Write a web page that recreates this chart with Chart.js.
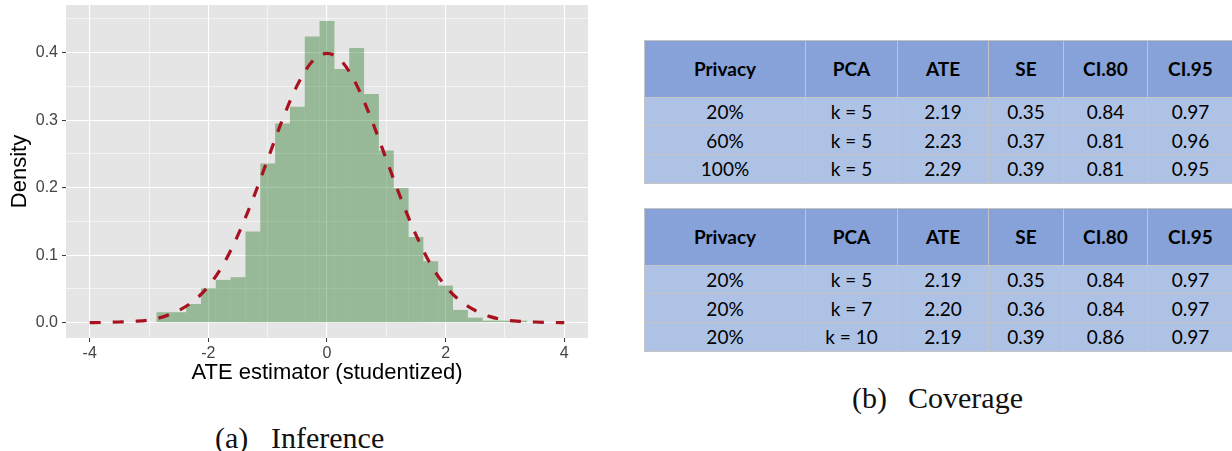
<!DOCTYPE html>
<html>
<head>
<meta charset="utf-8">
<script src="https://cdn.jsdelivr.net/npm/chart.js@4.4.1/dist/chart.umd.min.js"></script>
<style>
  body { margin: 0; width: 1232px; height: 451px; overflow: hidden; background: #fff; position: relative; }
  #hist { position: absolute; left: 0; top: 0; }
  .caption { position: absolute; font-family: "Liberation Serif", serif; font-size: 30px; line-height: 34px; color: #111; white-space: nowrap; }
  table.cov { position: absolute; left: 644px; border-collapse: collapse; table-layout: fixed; font-family: Lato, sans-serif; font-size: 19px; color: #000; }
  table.cov th, table.cov td { border: 1px solid #c4c4c4; text-align: center; padding: 0; }
  table.cov th { background: #86a2d8; font-weight: bold; height: 55.6px; }
  table.cov td { background: #aec2e6; height: 27.7px; }
</style>
</head>
<body>
<canvas id="hist" width="600" height="400"></canvas>

<table class="cov" id="tablePrivacy" style="top:40px"></table>
<table class="cov" id="tablePca" style="top:208px"></table>

<div class="caption" style="left:215px; top:421px">(a)</div>
<div class="caption" style="left:271px; top:421px">Inference</div>
<div class="caption" style="left:852px; top:381px">(b)</div>
<div class="caption" style="left:908px; top:381px">Coverage</div>

<script>
// histogram of the studentized ATE estimator (bins of width 0.25)
const binCenters = [-2.75, -2.5, -2.25, -2.0, -1.75, -1.5, -1.25, -1.0, -0.75, -0.5, -0.25, 0,
                    0.25, 0.5, 0.75, 1.0, 1.25, 1.5, 1.75, 2.0, 2.25, 2.5, 2.75, 3.0, 3.25];
const binDensity = [0.0155, 0.0155, 0.0277, 0.051, 0.0634, 0.0674, 0.135, 0.236, 0.295, 0.320, 0.424, 0.447,
                    0.376, 0.407, 0.339, 0.255, 0.1995, 0.127, 0.091, 0.055, 0.0189, 0.0074, 0.003, 0.003, 0.003];

// dashed reference density
const curveX = [-4, -3.75, -3.5, -3.25, -3, -2.75, -2.5, -2.25, -2, -1.75, -1.5, -1.25, -1, -0.75, -0.5, -0.25, 0,
                0.25, 0.5, 0.75, 1, 1.25, 1.5, 1.75, 2, 2.25, 2.5, 2.75, 3, 3.25, 3.5, 3.75, 4];
const curveY = [0.0001, 0.0004, 0.001, 0.002, 0.004, 0.009, 0.018, 0.032, 0.054, 0.086, 0.130, 0.183, 0.242, 0.301, 0.352, 0.387, 0.399,
                0.387, 0.352, 0.301, 0.242, 0.183, 0.130, 0.086, 0.054, 0.032, 0.018, 0.009, 0.004, 0.002, 0.001, 0.0004, 0.0001];

// coverage tables
const tableHeader = ['Privacy', 'PCA', 'ATE', 'SE', 'CI.80', 'CI.95'];
const privacyRows = [
  ['20%', 'k = 5', '2.19', '0.35', '0.84', '0.97'],
  ['60%', 'k = 5', '2.23', '0.37', '0.81', '0.96'],
  ['100%', 'k = 5', '2.29', '0.39', '0.81', '0.95']
];
const pcaRows = [
  ['20%', 'k = 5', '2.19', '0.35', '0.84', '0.97'],
  ['20%', 'k = 7', '2.20', '0.36', '0.84', '0.97'],
  ['20%', 'k = 10', '2.19', '0.39', '0.86', '0.97']
];
const colWidths = [161, 92, 91, 75, 84, 86];

function buildTable(id, rows) {
  const table = document.getElementById(id);
  let html = '<colgroup>' + colWidths.map(w => `<col style="width:${w}px">`).join('') + '</colgroup>';
  html += '<tr>' + tableHeader.map(h => `<th>${h}</th>`).join('') + '</tr>';
  rows.forEach(r => {
    html += '<tr>' + r.map(c => `<td>${c}</td>`).join('') + '</tr>';
  });
  table.innerHTML = html;
  table.style.width = colWidths.reduce((a, b) => a + b, 0) + 'px';
}
buildTable('tablePrivacy', privacyRows);
buildTable('tablePca', pcaRows);

Chart.defaults.font.family = '"Liberation Sans", Arial, sans-serif';

const isMajorY = v => Math.abs(v * 10 - Math.round(v * 10)) < 1e-6;
const isMajorX = v => Math.abs(v / 2 - Math.round(v / 2)) < 1e-6;

// grey ggplot-like panel
const panelBg = {
  id: 'panelBg',
  beforeDraw(chart) {
    const a = chart.chartArea;
    const c = chart.ctx;
    c.save();
    c.fillStyle = '#e5e5e5';
    c.fillRect(a.left, a.top, a.right - a.left, a.bottom - a.top);
    c.restore();
  }
};

const ctx = document.getElementById('hist').getContext('2d');
new Chart(ctx, {
  type: 'bar',
  data: {
    datasets: [
      {
        type: 'line',
        data: curveX.map((x, i) => ({ x: x, y: curveY[i] })),
        borderColor: '#a8121f',
        borderWidth: 3.2,
        borderDash: [11, 12],
        borderCapStyle: 'butt',
        pointRadius: 0,
        cubicInterpolationMode: 'monotone',
        fill: false,
        order: 0
      },
      {
        type: 'bar',
        data: binCenters.map((x, i) => ({ x: x, y: binDensity[i] })),
        backgroundColor: 'rgba(0, 100, 0, 0.34)',
        borderWidth: 0,
        barPercentage: 1,
        categoryPercentage: 1,
        inflateAmount: 0,
        order: 1
      }
    ]
  },
  options: {
    responsive: false,
    animation: false,
    layout: { padding: { top: 5, right: 12, left: 0, bottom: 0 } },
    plugins: { legend: { display: false }, tooltip: { enabled: false } },
    scales: {
      x: {
        type: 'linear',
        min: -4.4,
        max: 4.4,
        offset: false,
        grid: {
          offset: false,
          color: '#ffffff',
          lineWidth: c => isMajorX(c.tick.value) ? 1.1 : 0.55,
          tickColor: c => isMajorX(c.tick.value) ? '#333333' : 'rgba(0,0,0,0)',
          tickLength: 4,
          tickWidth: 1
        },
        border: { display: false },
        ticks: {
          stepSize: 1,
          includeBounds: false,
          autoSkip: false,
          maxRotation: 0,
          padding: 2,
          color: '#444444',
          font: { size: 16 },
          callback: v => isMajorX(v) ? String(v) : ''
        },
        title: {
          display: true,
          text: 'ATE estimator (studentized)',
          color: '#000',
          font: { size: 22 },
          padding: { top: 0, bottom: 14 }
        },
        afterFit: s => { s.height = 62; s.paddingLeft = 0; s.paddingRight = 0; }
      },
      y: {
        min: -0.0227,
        max: 0.4707,
        grid: {
          color: '#ffffff',
          lineWidth: c => isMajorY(c.tick.value) ? 1.1 : 0.55,
          tickColor: c => isMajorY(c.tick.value) ? '#333333' : 'rgba(0,0,0,0)',
          tickLength: 4,
          tickWidth: 1
        },
        border: { display: false },
        ticks: {
          stepSize: 0.05,
          includeBounds: false,
          autoSkip: false,
          padding: 4,
          color: '#444444',
          font: { size: 16 },
          callback: v => isMajorY(v) ? v.toFixed(1) : ''
        },
        title: {
          display: true,
          text: 'Density',
          color: '#000',
          font: { size: 22 },
          padding: { top: 7, bottom: 0 }
        },
        afterFit: s => { s.width = 66; s.paddingTop = 0; s.paddingBottom = 0; }
      }
    }
  },
  plugins: [panelBg]
});
</script>
</body>
</html>
